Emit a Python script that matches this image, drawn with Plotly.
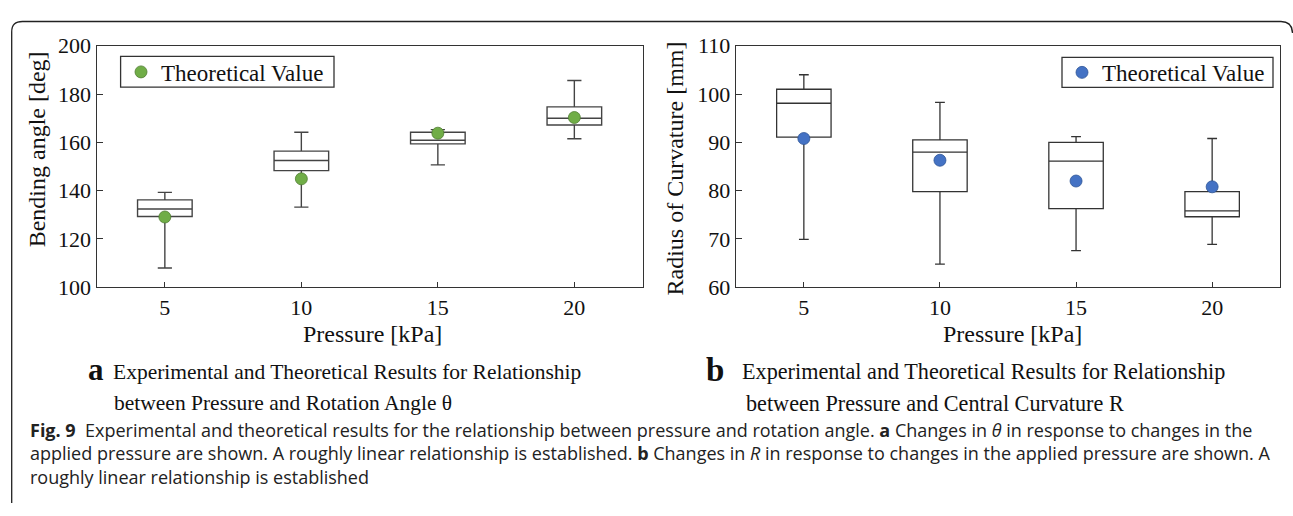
import plotly.graph_objects as go

W, H = 1293, 516

# ---------------- data ----------------
pressure = ["5", "10", "15", "20"]

# (a) bending angle [deg]
angle_lower = [108.0, 133.2, 150.7, 161.5]
angle_q1 = [129.3, 148.3, 159.4, 167.2]
angle_median = [132.4, 152.5, 160.9, 170.0]
angle_q3 = [136.2, 156.4, 164.2, 174.7]
angle_upper = [139.3, 164.2, 165.3, 185.6]
angle_theory = [129.1, 144.9, 163.8, 170.3]

# (b) radius of curvature [mm]
radius_lower = [69.9, 64.8, 67.6, 68.9]
radius_q1 = [91.1, 79.8, 76.3, 74.6]
radius_median = [98.1, 88.0, 86.1, 75.8]
radius_q3 = [101.0, 90.5, 90.0, 79.8]
radius_upper = [104.0, 98.3, 91.2, 90.8]
radius_theory = [90.8, 86.3, 82.0, 80.8]

left_ticks = [100, 120, 140, 160, 180, 200]
right_ticks = [60, 70, 80, 90, 100, 110]

SERIF = "Liberation Serif"
SANS = "Open Sans"
AX = "#333333"


def px(x):
    return x / W


def py(y):
    return 1 - y / H


fig = go.Figure()

fig.add_trace(go.Box(
    x=pressure, q1=angle_q1, median=angle_median, q3=angle_q3,
    lowerfence=angle_lower, upperfence=angle_upper,
    width=0.4, whiskerwidth=0.26, boxpoints=False,
    line=dict(color="#444444", width=1.4), fillcolor="rgba(0,0,0,0)",
    showlegend=False, xaxis="x", yaxis="y"))
fig.add_trace(go.Scatter(
    x=pressure, y=angle_theory, mode="markers", name="Theoretical Value",
    marker=dict(color="#70ad47", size=12, line=dict(color="#507e32", width=0.8)),
    legend="legend", xaxis="x", yaxis="y"))

fig.add_trace(go.Box(
    x=pressure, q1=radius_q1, median=radius_median, q3=radius_q3,
    lowerfence=radius_lower, upperfence=radius_upper,
    width=0.4, whiskerwidth=0.18, boxpoints=False,
    line=dict(color="#333333", width=1.3), fillcolor="rgba(0,0,0,0)",
    showlegend=False, xaxis="x2", yaxis="y2"))
fig.add_trace(go.Scatter(
    x=pressure, y=radius_theory, mode="markers", name="Theoretical Value",
    marker=dict(color="#4472c4", size=12, line=dict(color="#2f5597", width=0.8)),
    legend="legend2", xaxis="x2", yaxis="y2"))

xcommon = dict(type="category", categoryorder="array", categoryarray=pressure,
               range=[-0.5, 3.5], showline=True, mirror=True, linecolor=AX,
               linewidth=1.4, ticks="inside", ticklen=5, tickcolor=AX,
               tickwidth=1.2, tickfont=dict(family=SERIF, size=22, color="#111"),
               ticklabelstandoff=0, showgrid=False, zeroline=False)
ycommon = dict(showline=True, mirror=True, linecolor=AX, linewidth=1.4,
               ticks="inside", ticklen=6, tickcolor=AX, tickwidth=1.2,
               tickfont=dict(family=SERIF, size=22, color="#111"),
               showgrid=False, zeroline=False)

ydom = [py(289.3), py(35.5)]

legend_common = dict(xanchor="left", yanchor="middle", bgcolor="rgba(0,0,0,0)",
                     borderwidth=0, itemwidth=30,
                     font=dict(family=SERIF, size=23, color="#111"))

fig.update_layout(
    width=W, height=H, margin=dict(l=0, r=0, t=0, b=0),
    paper_bgcolor="white", plot_bgcolor="white",
    xaxis=dict(domain=[px(96.6), px(642.6)], anchor="y", **xcommon),
    yaxis=dict(domain=ydom, anchor="x", range=[100, 200],
               tickmode="array", tickvals=left_ticks, **ycommon),
    xaxis2=dict(domain=[px(735.8), px(1280.2)], anchor="y2", **xcommon),
    yaxis2=dict(domain=ydom, anchor="x2", range=[60, 110],
                tickmode="array", tickvals=right_ticks, **ycommon),
    legend=dict(x=px(121), y=py(63), **legend_common),
    legend2=dict(x=px(1062), y=py(63.5), **legend_common),
    showlegend=True,
)

# legend frames
for x0, x1, y0, y1 in [(120.6, 334, 46.7, 79), (1062, 1273, 47.7, 79.3)]:
    fig.add_shape(type="rect", xref="paper", yref="paper",
                  x0=px(x0), x1=px(x1), y0=py(y1), y1=py(y0),
                  line=dict(color=AX, width=1.3), fillcolor="white", layer="above")

ann = []


def text(x, y, s, size, family=SERIF, xanchor="center", angle=0, color="#111"):
    ann.append(dict(x=px(x), y=py(y), xref="paper", yref="paper", text=s,
                    showarrow=False, xanchor=xanchor, yanchor="middle", align="left",
                    textangle=angle, font=dict(family=family, size=size, color=color)))


# axis titles
text(372, 338, "Pressure [kPa]", 24)
text(1012, 338, "Pressure [kPa]", 24)
text(37.3, 144, "Bending angle [deg]", 24, angle=-90)
text(675.4, 164, "Radius of Curvature [mm]", 24, angle=-90)

# sub-captions
text(86, 376, "<b>a</b>", 31, xanchor="left")
text(111, 378, "Experimental and Theoretical Results for Relationship", 21.5, xanchor="left")
text(112, 411, "between Pressure and Rotation Angle θ", 21.5, xanchor="left")
text(704, 376, "<b>b</b>", 33, xanchor="left")
text(740, 378, "Experimental and Theoretical Results for Relationship", 22.2, xanchor="left")
text(744, 411, "between Pressure and Central Curvature R", 22.2, xanchor="left")

# figure caption (one multi-line text)
caption = ("<b>Fig. 9</b>  Experimental and theoretical results for the relationship between "
           "pressure and rotation angle. <b>a</b> Changes in <i>θ</i> in response to changes in the"
           "<br>applied pressure are shown. A roughly linear relationship is established. "
           "<b>b</b> Changes in <i>R</i> in response to changes in the applied pressure are shown. A"
           "<br>roughly linear relationship is established")
text(28, 463.5, caption, 18, family=SANS, xanchor="left", color="#222")

fig.update_layout(annotations=ann)

# rounded frame (open at the bottom and right)
path = (f"M {px(11.7)},{py(516)} L {px(11.7)},{py(21)} "
        f"Q {px(11.7)},{py(10)} {px(22.5)},{py(10)} "
        f"L {px(1281)},{py(10)} Q {px(1292)},{py(10)} {px(1292.5)},{py(22)}")
fig.add_shape(type="path", path=path, xref="paper", yref="paper",
              line=dict(color="#222222", width=1.3))

fig.write_html("out.html")
